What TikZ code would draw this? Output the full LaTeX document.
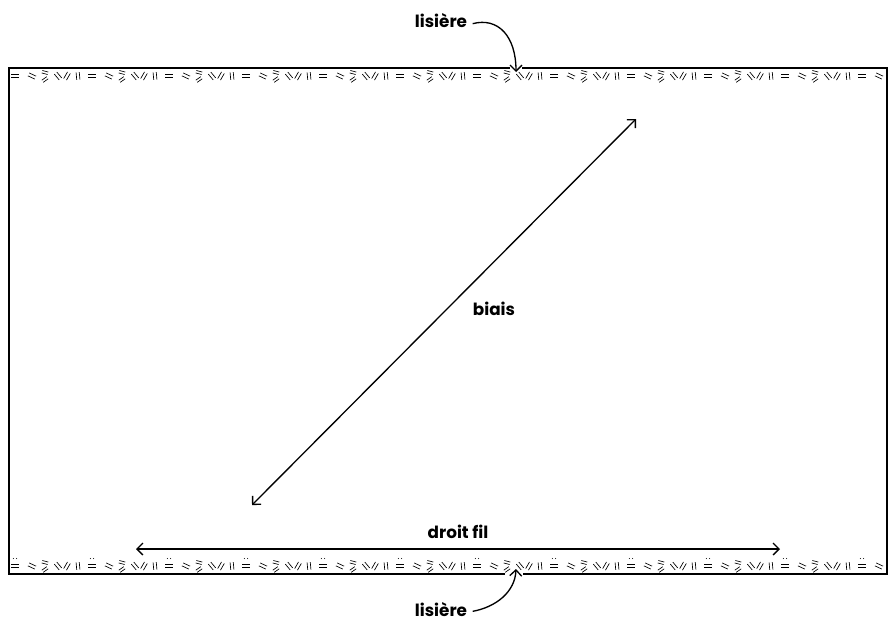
\documentclass[tikz,border=0pt]{standalone}
\usepackage{fontspec}
\setmainfont{Poppins}
\usetikzlibrary{arrows.meta}

\tikzset{
  dbl/.pic={\draw[line width=0.5pt] (-3.8,-1.6) -- (3.8,-1.6) (-3.8,1.6) -- (3.8,1.6);}
}

\begin{document}
\begin{tikzpicture}[
    x=0.75pt, y=-0.75pt,
    lbl/.style={font=\bfseries\fontsize{12.6}{14}\selectfont, inner sep=0pt},
    edge/.style={line width=0.85pt},
    arr/.style={{Straight Barb[length=4.5pt,width=9pt]}-{Straight Barb[length=4.5pt,width=9pt]}, line width=1pt},
    curv/.style={-{Straight Barb[length=4.5pt,width=9pt]}, line width=1pt}
  ]
    \useasboundingbox (0,0) rectangle (888,622);

    % fabric edges
    \draw[edge] (522,68) -- (887,68) -- (887,574) -- (523,574)
      (505,574) -- (9,574) -- (9,68) -- (510,68);

    % selvage pattern
    \begin{scope}
      \clip (9,60) rectangle (887,582);
      \foreach \yy in {76,566} {
        \foreach \k in {0,...,11} {
          \pgfmathsetmacro\xx{15+77*\k}
          \pic[rotate=0] at (\xx,\yy) {dbl};
          \pic[rotate=-25] at (\xx+17,\yy) {dbl};
          \pic[rotate=-15, scale=0.8] at (\xx+30,\yy-3.5) {dbl};
          \pic[rotate=35, scale=0.8] at (\xx+30,\yy+3.5) {dbl};
          \pic[rotate=-50] at (\xx+43,\yy) {dbl};
          \pic[rotate=60] at (\xx+52,\yy) {dbl};
          \pic[rotate=95] at (\xx+63,\yy) {dbl};
          \fill (\xx-1.6,\yy-7.5) circle (0.55) (\xx+1.6,\yy-7.5) circle (0.55);
        }
      }
    \end{scope}

    \node[lbl] (lisT) at (441,21) {lisière};
    \node[lbl] (lisB) at (441,610) {lisière};
    \node[lbl] (biais) at (494,309) {biais};
    \node[lbl] (fil) at (458,532) {droit fil};

    \coordinate (tipT) at (516,72);
    \coordinate (tipB) at (516,569);
    \coordinate (b1) at (252,505);
    \coordinate (b2) at (636,119);
    \coordinate (d1) at (136,549);
    \coordinate (d2) at (780,549);

    \draw[curv] ([xshift=4pt,yshift=-2pt]lisT.east) .. controls (498,17) and (516,36) .. (tipT);
    \draw[curv] ([xshift=4pt,yshift=-1pt]lisB.east) .. controls (496,607) and (515,592) .. (tipB);
    \draw[arr] (b1) -- (b2);
    \draw[arr] (d1) -- (d2);
  \end{tikzpicture}
\end{document}
